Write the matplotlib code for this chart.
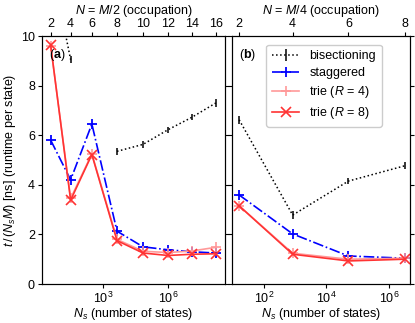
import numpy as np
import matplotlib
matplotlib.use("Agg")
import matplotlib.pyplot as plt

plt.rcParams['font.family'] = ['Liberation Sans', 'DejaVu Sans']
plt.rcParams['mathtext.fontset'] = 'custom'
plt.rcParams['mathtext.rm'] = 'Liberation Sans'
plt.rcParams['mathtext.it'] = 'Liberation Sans:italic'
plt.rcParams['mathtext.bf'] = 'Liberation Sans:bold'
plt.rcParams['font.size'] = 9

# panel (a): N = M/2
occ_a = [2, 4, 6, 8, 10, 12, 14, 16]
ns_a = [10**0.59, 10**1.51, 10**2.49, 10**3.65, 10**4.85, 10**6.0, 10**7.1, 10**8.21]
bisect_a = [13.0, 9.05, np.nan, 5.35, 5.63, 6.22, 6.72, 7.3]
bisect_err_a = [0.15, 0.15, 0.0, 0.15, 0.15, 0.12, 0.12, 0.15]
stag_a = [5.8, 4.2, 6.45, 2.13, 1.5, 1.38, 1.3, 1.25]
trie4_a = [9.6, 3.45, 5.25, 1.8, 1.32, 1.27, 1.33, 1.48]
trie8_a = [9.62, 3.38, 5.22, 1.75, 1.25, 1.15, 1.2, 1.22]

# panel (b): N = M/4
occ_b = [2, 4, 6, 8]
ns_b = [10**1.21, 10**2.92, 10**4.70, 10**6.51]
bisect_b = [6.62, 2.78, 4.15, 4.77]
bisect_err_b = [0.15, 0.15, 0.12, 0.15]
stag_b = [3.59, 2.02, 1.13, 1.04]
trie4_b = [3.15, 1.24, 1.0, 1.04]
trie8_b = [3.15, 1.2, 0.93, 1.0]

fig = plt.figure(figsize=(4.15, 3.23), dpi=100)
ax_a = fig.add_axes([0.101, 0.1207, 0.441, 0.7678])
ax_b = fig.add_axes([0.558, 0.1207, 0.430, 0.7678])

red = '#ff3333'
light = '#ff9999'


def draw(ax, ns, occ, bis, bis_err, stag, t4, t8, xlim, xticks, top_label, tag):
    ax.errorbar(ns, bis, yerr=bis_err, color='black', ls=':', lw=1.1,
                elinewidth=1.1, capsize=0, label='bisectioning')
    ax.plot(ns, stag, color='blue', ls='-.', lw=1.2, marker='+', ms=7,
            mew=1.3, label='staggered')
    ax.plot(ns, t4, color=light, ls='-', lw=1.2, marker='+', ms=7,
            mew=1.2, label='trie ($R$ = 4)')
    ax.plot(ns, t8, color=red, ls='-', lw=1.2, marker='x', ms=7,
            mew=1.2, label='trie ($R$ = 8)')
    ax.set_xscale('log')
    ax.set_xlim(*xlim)
    ax.set_ylim(0, 10)
    ax.set_xticks(xticks)
    ax.xaxis.set_minor_locator(matplotlib.ticker.NullLocator())
    ax.set_xlabel('$N_s$ (number of states)', labelpad=0)
    ax.tick_params(direction='out', length=3, right=True, pad=2)
    ax.text(0.04, 0.955, tag, transform=ax.transAxes, va='top', ha='left')
    top = ax.twiny()
    top.set_xscale('log')
    top.set_xlim(*xlim)
    top.set_xticks(ns)
    top.set_xticklabels([str(o) for o in occ])
    top.xaxis.set_minor_locator(matplotlib.ticker.NullLocator())
    top.tick_params(direction='out', length=3, pad=1)
    top.set_xlabel(top_label, labelpad=3)


draw(ax_a, ns_a, occ_a, bisect_a, bisect_err_a, stag_a, trie4_a, trie8_a,
     (10**0.185, 10**8.63), [1e3, 1e6], '$N$ = $M/2$ (occupation)',
     '($\\mathbf{a}$)')
ax_a.set_yticks([0, 2, 4, 6, 8, 10])
ax_a.set_ylabel('$t\\,/\\,(N_sM)$ [ns] (runtime per state)', labelpad=2)

draw(ax_b, ns_b, occ_b, bisect_b, bisect_err_b, stag_b, trie4_b, trie8_b,
     (10**0.967, 10**6.67), [1e2, 1e4, 1e6], '$N$ = $M/4$ (occupation)',
     '($\\mathbf{b}$)')
ax_b.set_yticks([0, 2, 4, 6, 8, 10])
ax_b.set_yticklabels([])

handles, labels = ax_b.get_legend_handles_labels()
order = [labels.index(l) for l in ['bisectioning', 'staggered',
                                    'trie ($R$ = 4)', 'trie ($R$ = 8)']]
ax_b.legend([handles[i] for i in order], [labels[i] for i in order],
            loc='upper left', bbox_to_anchor=(0.16, 0.99), fontsize=9,
            handlelength=2.2, borderpad=0.45, labelspacing=0.4,
            handletextpad=0.8, framealpha=1, edgecolor='#cccccc')

fig.savefig('out.png', dpi=100)
